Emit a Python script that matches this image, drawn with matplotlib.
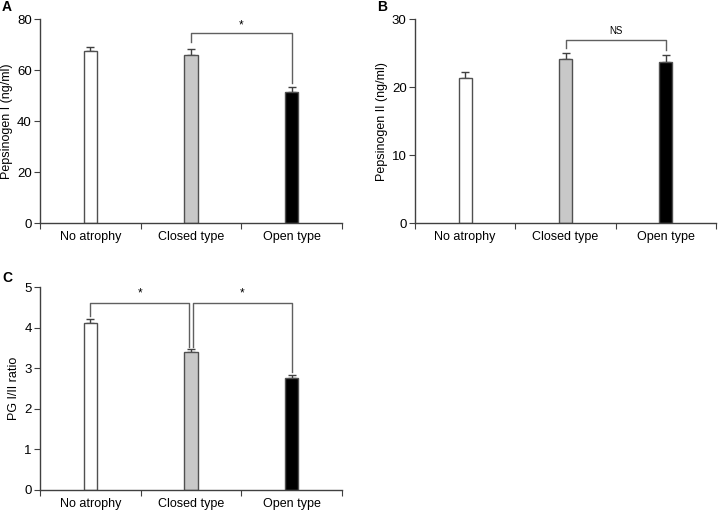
import matplotlib
matplotlib.use('Agg')
import matplotlib.pyplot as plt

categories = ['No atrophy', 'Closed type', 'Open type']
pg1_means = [67.7, 66.0, 51.6]
pg1_errs = [1.6, 2.3, 1.7]
pg2_means = [21.4, 24.25, 23.7]
pg2_errs = [0.8, 0.75, 1.1]
ratio_means = [4.11, 3.40, 2.755]
ratio_errs = [0.11, 0.07, 0.075]

bar_colors = ['white', '#c8c8c8', 'black']
edge = '#505050'
axcol = '#404040'
brcol = '#606060'

plt.rcParams['font.family'] = 'Liberation Sans'

fig = plt.figure(figsize=(7.18, 5.11), dpi=100)
W, H = 718, 511


def make_ax(left, right, top, bottom):
    return fig.add_axes([left / W, 1 - bottom / H, (right - left) / W, (bottom - top) / H])


def bar_panel(ax, means, errs, ymax, step, ylabel):
    x = range(len(categories))
    ax.bar(x, means, width=0.13, color=bar_colors, edgecolor=edge, linewidth=1.0, zorder=2)
    ax.errorbar(x, means, yerr=[[0] * 3, errs], fmt='none', ecolor=axcol,
                elinewidth=1.0, capsize=3, capthick=1.0, zorder=1)
    ax.set_xlim(-0.5, 2.5)
    ax.set_ylim(0, ymax)
    ax.set_yticks([i * step for i in range(int(round(ymax / step)) + 1)])
    ax.set_xticks([-0.5, 0.5, 1.5, 2.5])
    ax.set_xticklabels([])
    ax.set_xticks(list(x), minor=True)
    ax.set_xticklabels(categories, minor=True)
    ax.tick_params(axis='x', which='minor', length=0, pad=6, labelsize=9)
    ax.tick_params(axis='x', which='major', length=4, color=axcol, direction='out')
    ax.tick_params(axis='y', length=4, color=axcol, labelsize=9.5, pad=2)
    for s in ['top', 'right']:
        ax.spines[s].set_visible(False)
    for s in ['left', 'bottom']:
        ax.spines[s].set_color(axcol)
        ax.spines[s].set_linewidth(1.0)
    ax.set_ylabel(ylabel, fontsize=9, labelpad=3)


def bracket(ax, x1, x2, y, y1, y2, label, dy, fs=8):
    ax.plot([x1, x1, x2, x2], [y1, y, y, y2], color=brcol, lw=1.0, clip_on=False)
    ax.text((x1 + x2) / 2, y + dy, label, ha='center', va='bottom', fontsize=fs)


axA = make_ax(40, 342, 19.5, 223)
bar_panel(axA, pg1_means, pg1_errs, 80, 20, 'Pepsinogen I (ng/ml)')
bracket(axA, 1, 2, 74.5, 71.0, 55.0, '*', 0.8, 8.5)
fig.text(2 / W, 1 - 7 / H, 'A', fontsize=10, fontweight='bold', va='center')

axB = make_ax(415, 716, 19.5, 223)
bar_panel(axB, pg2_means, pg2_errs, 30, 10, 'Pepsinogen II (ng/ml)')
bracket(axB, 1, 2, 27.0, 25.8, 25.5, 'NS', 0.6, 7)
fig.text(377 / W, 1 - 7 / H, 'B', fontsize=10, fontweight='bold', va='center')

axC = make_ax(40, 342, 287.3, 490)
bar_panel(axC, ratio_means, ratio_errs, 5, 1, 'PG I/II ratio')
bracket(axC, 0, 0.98, 4.62, 4.28, 3.52, '*', 0.07, 8.5)
bracket(axC, 1.02, 2, 4.62, 3.52, 2.9, '*', 0.07, 8.5)
fig.text(2 / W, 1 - 278 / H, 'C', fontsize=10, fontweight='bold', va='center')

fig.savefig('out.png', dpi=100)
